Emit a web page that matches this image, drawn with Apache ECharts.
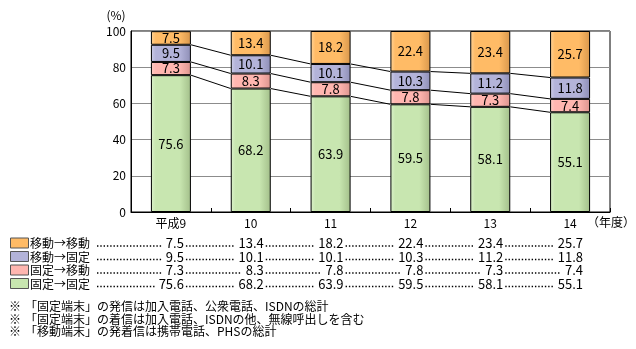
<!DOCTYPE html>
<html>
<head>
<meta charset="utf-8">
<script src="https://cdn.jsdelivr.net/npm/echarts@6/dist/echarts.min.js"></script>
<style>
  html, body { margin: 0; padding: 0; background: #fff; }
  #chart { width: 636px; height: 349px; }
</style>
</head>
<body>
<div id="chart"></div>
<script>
// Fiscal years (平成) on the category axis
const years = ['平成9', '10', '11', '12', '13', '14'];
// Share of calls by origin → destination terminal (%)
const fixedToFixed   = [75.6, 68.2, 63.9, 59.5, 58.1, 55.1];
const fixedToMobile  = [7.3, 8.3, 7.8, 7.8, 7.3, 7.4];
const mobileToFixed  = [9.5, 10.1, 10.1, 10.3, 11.2, 11.8];
const mobileToMobile = [7.5, 13.4, 18.2, 22.4, 23.4, 25.7];
const yTicks = [0, 20, 40, 60, 80, 100];

const seriesNames = ['固定→固定', '固定→移動', '移動→固定', '移動→移動'];
const notes = [
  '「固定端末」の発信は加入電話、公衆電話、ISDNの総計',
  '「固定端末」の着信は加入電話、ISDNの他、無線呼出しを含む',
  '「移動端末」の発着信は携帯電話、PHSの総計'
];

const FONT = '"Noto Sans CJK JP", "Noto Sans", sans-serif';
const BAR_W = 40;

// fill colours: [light edge, body, dark edge]
const palette = [
  ['#dcf2cc', '#c8e6b0', '#a3bf8a'],
  ['#ffd0c8', '#ffb6b0', '#dc948e'],
  ['#cfcfe8', '#b3b3d9', '#8e8eb6'],
  ['#ffd49a', '#ffbb66', '#d8974c']
];
function barFill(c) {
  return new echarts.graphic.LinearGradient(0, 0, 1, 0, [
    { offset: 0, color: c[0] },
    { offset: 0.12, color: c[1] },
    { offset: 0.72, color: c[1] },
    { offset: 1, color: c[2] }
  ]);
}

const stacks = [fixedToFixed, fixedToMobile, mobileToFixed, mobileToMobile];

// cumulative boundaries for the connector lines
const cumA = fixedToFixed.map(v => v);
const cumB = fixedToFixed.map((v, i) => v + fixedToMobile[i]);
const cumC = fixedToFixed.map((v, i) => v + fixedToMobile[i] + mobileToFixed[i]);
const connectorData = [];
[cumA, cumB, cumC].forEach(cum => {
  for (let i = 0; i < cum.length - 1; i++) connectorData.push([i, cum[i], cum[i + 1]]);
});

const chart = echarts.init(document.getElementById('chart'), null, { renderer: 'canvas' });

const barSeries = stacks.map((arr, k) => ({
  name: seriesNames[k],
  type: 'bar',
  stack: 'total',
  barWidth: BAR_W,
  data: arr,
  itemStyle: { color: barFill(palette[k]), borderColor: '#000', borderWidth: 1 },
  label: {
    show: true,
    position: 'inside',
    color: '#000',
    fontFamily: FONT,
    fontSize: 13,
    formatter: p => p.value.toFixed(1)
  },
  emphasis: { disabled: true },
  animation: false
}));

chart.setOption({
  animation: false,
  grid: { left: 131, right: 26, top: 31, bottom: 137, show: true, borderColor: '#000', borderWidth: 1 },
  xAxis: {
    type: 'category',
    data: years,
    axisLine: { lineStyle: { color: '#000', width: 1 } },
    axisTick: { show: true, inside: true, length: 4, lineStyle: { color: '#000' } },
    axisLabel: { color: '#000', fontFamily: FONT, fontSize: 12, margin: 5 }
  },
  yAxis: {
    type: 'value',
    min: yTicks[0],
    max: yTicks[yTicks.length - 1],
    interval: 20,
    axisLine: { show: true, lineStyle: { color: '#000', width: 1 } },
    axisTick: { show: false },
    splitLine: { lineStyle: { color: '#8c8c8c', width: 1 } },
    axisLabel: { color: '#000', fontFamily: FONT, fontSize: 12, margin: 5 }
  },
  series: barSeries.concat([{
    type: 'custom',
    data: connectorData,
    encode: { x: 0, y: 1 },
    z: 5,
    silent: true,
    renderItem: (params, api) => {
      const i = api.value(0);
      const p1 = api.coord([i, api.value(1)]);
      const p2 = api.coord([i + 1, api.value(2)]);
      return {
        type: 'line',
        shape: { x1: p1[0] + BAR_W / 2, y1: p1[1], x2: p2[0] - BAR_W / 2, y2: p2[1] },
        style: { stroke: '#000', lineWidth: 1 }
      };
    }
  }])
});

// ---- table under the chart ----
const ctx = document.createElement('canvas').getContext('2d');
const TABLE_FONT = '12px ' + FONT;
const VALUE_FONT = '13px ' + FONT;
const measure = (s, f) => { ctx.font = f; return ctx.measureText(s).width; };

const centers = years.map((y, i) => chart.convertToPixel({ xAxisIndex: 0 }, i));
const rowY = [243.5, 257, 270.5, 284];
const tableRows = [mobileToMobile, mobileToFixed, fixedToMobile, fixedToFixed];
const rowColors = [palette[3][1], palette[2][1], palette[1][1], palette[0][1]];
const rowNames = [seriesNames[3], seriesNames[2], seriesNames[1], seriesNames[0]];

const g = [];
tableRows.forEach((vals, r) => {
  const y = rowY[r];
  g.push({ type: 'rect', shape: { x: 10.5, y: y - 5.5, width: 18, height: 10 },
           style: { fill: rowColors[r], stroke: '#555', lineWidth: 1 } });
  g.push({ type: 'text', x: 30, y: y, style: { text: rowNames[r], font: TABLE_FONT, fill: '#000',
           textVerticalAlign: 'middle', textBaseline: 'middle' } });
  let prevEnd = 30 + measure(rowNames[r], TABLE_FONT) + 7;
  vals.forEach((v, i) => {
    const s = v.toFixed(1);
    const right = centers[i] + 13;
    const left = right - measure(s, VALUE_FONT);
    g.push({ type: 'line', shape: { x1: prevEnd, y1: y + 2.5, x2: left - 4, y2: y + 2.5 },
             style: { stroke: '#000', lineWidth: 1.4, lineDash: [1.4, 1.9] } });
    g.push({ type: 'text', x: right, y: y, style: { text: s, font: VALUE_FONT, fill: '#000',
             textAlign: 'right', textVerticalAlign: 'middle', textBaseline: 'middle' } });
    prevEnd = right + 2;
  });
});

const noteY = [306.5, 319, 331.5];
notes.forEach((t, k) => {
  g.push({ type: 'text', x: 9, y: noteY[k], style: { text: '※', font: TABLE_FONT, fill: '#000', textVerticalAlign: 'middle', textBaseline: 'middle' } });
  g.push({ type: 'text', x: 25, y: noteY[k], style: { text: t, font: TABLE_FONT, fill: '#000', textVerticalAlign: 'middle', textBaseline: 'middle' } });
});

// axis unit captions
g.push({ type: 'text', x: 116, y: 15, style: { text: '(%)', font: TABLE_FONT, fill: '#000', textAlign: 'center', textVerticalAlign: 'middle', textBaseline: 'middle' } });
g.push({ type: 'text', x: 587, y: 222, style: { text: '（年度）', font: TABLE_FONT, fill: '#000', textVerticalAlign: 'middle', textBaseline: 'middle' } });

chart.setOption({ graphic: { elements: g } });
</script>
</body>
</html>
